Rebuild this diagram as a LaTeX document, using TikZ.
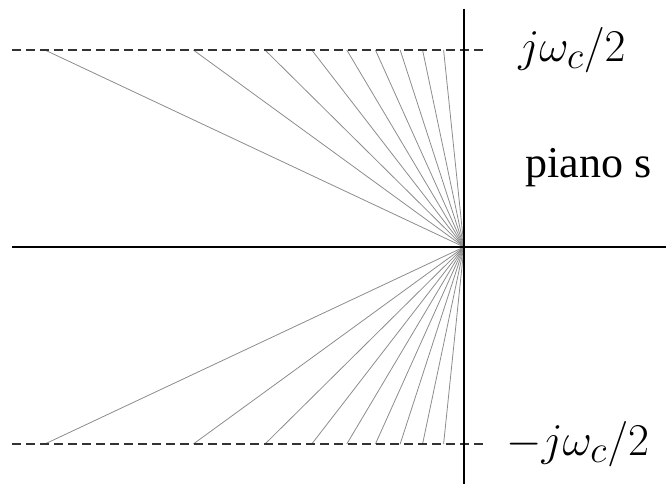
\documentclass[tikz,border=0pt]{standalone}
\usepackage{fontspec}
\setmainfont{Liberation Serif}
\begin{document}
\begin{tikzpicture}[x=0.75pt,y=-0.75pt,
            axis/.style={black, line width=1.3pt},
            limit/.style={black!80, line width=1.2pt, dash pattern=on 6.5pt off 4pt},
            ray/.style={black!45, line width=0.6pt},
            mathlabel/.style={font=\Huge, scale=1.37, inner sep=0pt, anchor=west}
            ]
            \useasboundingbox (0,0) rectangle (666,484);

            \coordinate (o) at (464,247);
            \coordinate (yt) at (464,9);
            \coordinate (yb) at (464,484);
            \coordinate (xl) at (12,247);
            \coordinate (xr) at (666,247);
            \coordinate (tl) at (12,50);
            \coordinate (tr) at (487,50);
            \coordinate (bl) at (12,444);
            \coordinate (br) at (487,444);

            % constant damping rays
            \foreach \z [count=\i] in {0.1,0.2,0.3,0.4,0.5,0.6,0.7,0.8,0.9} {
                \pgfmathsetmacro{\dx}{203*\z/sqrt(1-\z*\z)}
                \coordinate (u\i) at (464-\dx,50);
                \coordinate (d\i) at (464-\dx,444);
                \draw[ray] (o) -- (u\i);
                \draw[ray] (o) -- (d\i);
            }

            \draw[limit] (tl) -- (tr);
            \draw[limit] (bl) -- (br);

            \draw[axis] (xl) -- (xr);
            \draw[axis] (yt) -- (yb);

            \node[mathlabel] (wp) at (518,50) {$j\omega_c/2$};
            \node[mathlabel] (wm) at (506,444) {$-j\omega_c/2$};
            \node[font=\fontsize{33}{36}\selectfont, inner sep=0pt, anchor=base west] (ps) at (525,178) {piano s};
\end{tikzpicture}
\end{document}
